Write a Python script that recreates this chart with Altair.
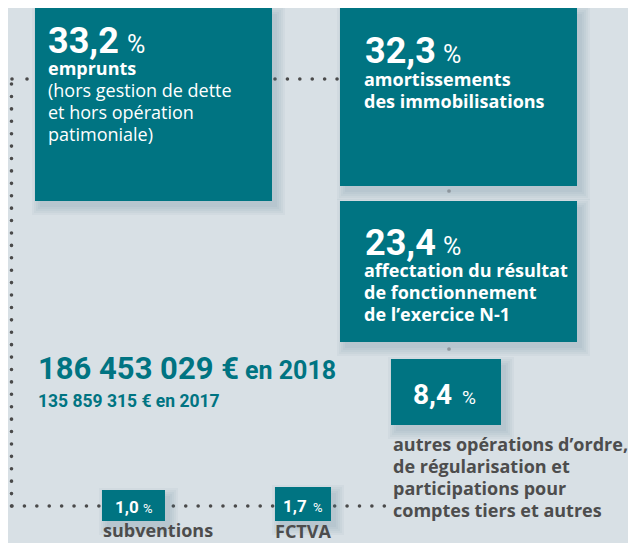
import altair as alt
import pandas as pd

# ---------------- data ----------------
shares = [33.2, 32.3, 23.4, 8.4, 1.0, 1.7]
share_labels = [f"{v:.1f}".replace(".", ",") for v in shares]
name_bold = [
    ["emprunts"],
    ["amortissements", "des immobilisations"],
    ["affectation du résultat", "de fonctionnement", "de l’exercice N-1"],
]
name_regular = [["(hors gestion de dette", "et hors opération", "patimoniale)"], [], []]
name_outside = [
    ["autres opérations d’ordre,", "de régularisation et", "participations pour", "comptes tiers et autres"],
    ["subventions"],
    ["FCTVA"],
]
total_2018 = "186 453 029 €"
year_2018 = "en 2018"
total_2017 = "135 859 315 € en 2017"

# ---------------- layout (reference pixel units) ----------------
box_x1 = [35, 340, 340, 391, 102, 275]
box_y1 = [8, 8, 201, 359, 490, 487]
box_x2 = [272, 577, 577, 501, 165, 331]
box_y2 = [201, 186, 342, 425, 521, 521]
num_pos = [(48, 53, 36), (365, 63, 36), (365, 255, 36), (413, 404, 28), (115, 513, 17), (283, 512, 17)]
pct_pos = [(127, 53, 25), (443, 63, 25), (443, 255, 25), (462, 404, 19), (143, 513, 13), (313, 512, 13)]
inside_x = [48, 364, 364]
inside_bold_y = [75, 86, 277]
inside_reg_y = [97, None, None]
outside_x = [393, 103, 275]
outside_y = [451, 537, 538]
LINE_H = 22

TEAL = "#007482"
BG = "#d8e0e5"
GREY_TXT = "#4d4d4d"
DOT = "#4a4a4a"
NUM_FONT = "Roboto"
LBL_FONT = "Open Sans"
LBL_SIZE = 18

XS = alt.Scale(domain=[8, 628], nice=False, zero=False)
YS = alt.Scale(domain=[8, 543], nice=False, zero=False, reverse=True)


def xe(f="x"):
    return alt.X(f"{f}:Q", scale=XS, axis=None)


def ye(f="y"):
    return alt.Y(f"{f}:Q", scale=YS, axis=None)


# boxes
boxes = pd.DataFrame({"x": box_x1, "y": box_y1, "x2": box_x2, "y2": box_y2, "share": shares})

# shadows (soft drop shadow approximation)
sh_rows = []
for i in range(len(shares)):
    for e in [0, 2, 4, 6, 8]:
        sh_rows.append({"x": box_x1[i] + 5 - e, "x2": box_x2[i] + 5 + e,
                        "y": box_y1[i] + 6 - e, "y2": box_y2[i] + 6 + e})
shadows = pd.DataFrame(sh_rows)

# dotted connector lines
dots_main = pd.DataFrame([
    {"x": 11.5, "x2": 11.5, "y": 506, "y2": 79},
    {"x": 275, "x2": 338, "y": 79, "y2": 79},
    {"x": 12, "x2": 386, "y": 506, "y2": 506},
])
dots_short = pd.DataFrame([{"x": 12, "x2": 28, "y": 79, "y2": 79}])
small_dots = pd.DataFrame({"x": [449, 449], "y": [191, 349]})

# texts
num_bold, num_reg, lbl_bold, lbl_reg = [], [], [], []
for i, lab in enumerate(share_labels):
    x, y, s = num_pos[i]
    num_bold.append({"x": x, "y": y, "text": lab, "size": s, "color": "#ffffff"})
    x, y, s = pct_pos[i]
    num_reg.append({"x": x, "y": y, "text": "%", "size": s, "color": "#ffffff"})
for i in range(3):
    lbl_bold.append({"x": inside_x[i], "y": inside_bold_y[i], "text": "\n".join(name_bold[i]),
                     "size": LBL_SIZE, "color": "#ffffff"})
    if name_regular[i]:
        lbl_reg.append({"x": inside_x[i], "y": inside_reg_y[i], "text": "\n".join(name_regular[i]),
                        "size": LBL_SIZE, "color": "#ffffff"})
for i in range(3):
    lbl_bold.append({"x": outside_x[i], "y": outside_y[i], "text": "\n".join(name_outside[i]),
                     "size": LBL_SIZE, "color": GREY_TXT})
num_bold.append({"x": 38, "y": 379, "text": total_2018, "size": 31, "color": TEAL})
num_bold.append({"x": 245, "y": 379, "text": year_2018, "size": 25, "color": TEAL})
num_bold.append({"x": 38, "y": 407, "text": total_2017, "size": 17.5, "color": TEAL})

rule_main = alt.Chart(dots_main).mark_rule(
    color=DOT, strokeWidth=3.6, strokeCap="round", strokeDash=[0.01, 12.4]
).encode(x=xe(), x2="x2", y=ye(), y2="y2")
rule_short = alt.Chart(dots_short).mark_rule(
    color=DOT, strokeWidth=3.6, strokeCap="round", strokeDash=[0.01, 15]
).encode(x=xe(), x2="x2", y=ye(), y2="y2")
sd = alt.Chart(small_dots).mark_circle(color="#8c959c", size=14, opacity=1).encode(x=xe(), y=ye())

shadow_layer = alt.Chart(shadows).mark_rect(color="#5b7d8c", opacity=0.055).encode(
    x=xe(), x2="x2", y=ye(), y2="y2")
box_layer = alt.Chart(boxes).mark_rect(color=TEAL).encode(x=xe(), x2="x2", y=ye(), y2="y2")


def text_layer(rows, font, weight):
    return alt.Chart(pd.DataFrame(rows)).mark_text(
        align="left", baseline="alphabetic", font=font, fontWeight=weight,
        lineBreak="\n", lineHeight=LINE_H,
    ).encode(
        x=xe(), y=ye(), text="text:N",
        size=alt.Size("size:Q", scale=None, legend=None),
        color=alt.Color("color:N", scale=None, legend=None),
    )


chart = alt.layer(
    rule_main, rule_short, shadow_layer, box_layer, sd,
    text_layer(num_bold, NUM_FONT, "bold"), text_layer(num_reg, NUM_FONT, "normal"),
    text_layer(lbl_bold, LBL_FONT, "bold"), text_layer(lbl_reg, LBL_FONT, "normal"),
).properties(
    width=620, height=535, padding=0, autosize="none", background=BG
).configure_view(stroke=None)

chart.save("out.html", embed_options={"renderer": "svg", "actions": False})
